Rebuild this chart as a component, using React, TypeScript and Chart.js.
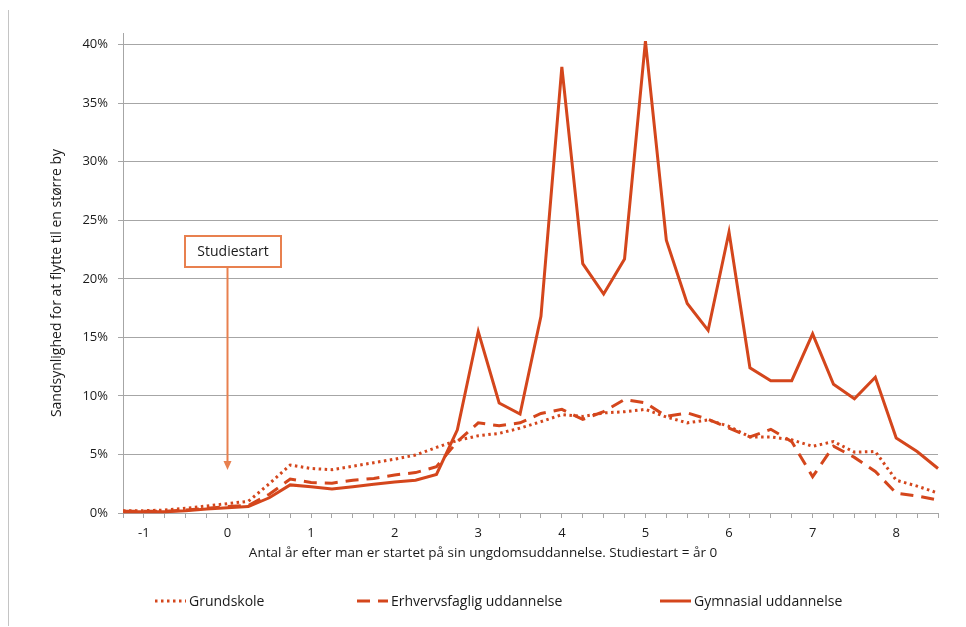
import React, { useEffect, useRef } from "react";
import { Chart, registerables } from "chart.js";

Chart.register(...registerables);

const quarters = [
  -1.25, -1, -0.75, -0.5, -0.25, 0, 0.25, 0.5, 0.75, 1, 1.25, 1.5, 1.75, 2, 2.25, 2.5, 2.75, 3, 3.25, 3.5,
  3.75, 4, 4.25, 4.5, 4.75, 5, 5.25, 5.5, 5.75, 6, 6.25, 6.5, 6.75, 7, 7.25, 7.5, 7.75, 8, 8.25, 8.5,
];

const grundskole = [
  0.2, 0.2, 0.25, 0.4, 0.6, 0.8, 1.0, 2.5, 4.1, 3.8, 3.7, 4.0, 4.3, 4.6, 4.95, 5.6, 6.2, 6.6, 6.8, 7.25,
  7.8, 8.4, 8.25, 8.55, 8.65, 8.85, 8.2, 7.7, 7.95, 7.4, 6.5, 6.5, 6.25, 5.7, 6.1, 5.2, 5.25, 2.8, 2.3, 1.7,
];

const erhvervsfaglig = [
  0.15, 0.15, 0.15, 0.25, 0.4, 0.55, 0.65, 1.6, 2.9, 2.6, 2.55, 2.8, 2.95, 3.25, 3.45, 3.95, 6.1, 7.7, 7.45, 7.7,
  8.5, 8.85, 8.0, 8.65, 9.7, 9.4, 8.25, 8.55, 8.0, 7.25, 6.5, 7.15, 6.1, 3.1, 5.7, 4.75, 3.55, 1.7, 1.45, 1.1,
];

const gymnasial = [
  0.1, 0.1, 0.1, 0.2, 0.35, 0.45, 0.55, 1.3, 2.4, 2.25, 2.05, 2.25, 2.45, 2.65, 2.8, 3.3, 7.1, 15.5, 9.4, 8.45,
  16.8, 38.1, 21.3, 18.7, 21.7, 40.3, 23.3, 17.9, 15.6, 24.0, 12.4, 11.3, 11.3, 15.3, 11.0, 9.75, 11.6, 6.4, 5.25, 3.8,
];

const seriesNames = ["Grundskole", "Erhvervsfaglig uddannelse", "Gymnasial uddannelse"];
const xTitle = "Antal år efter man er startet på sin ungdomsuddannelse. Studiestart = år 0";
const yTitle = "Sandsynlighed for at flytte til en større by";
const annotationText = "Studiestart";
const annotationYear = 0;

const LINE = "#d4461c";
const ANNOT = "#e8804f";
const GRID = "#a6a6a6";
const FONT = "'Open Sans', sans-serif";
const TEXT = "#1a1a1a";

const overlayPlugin = {
  id: "overlay",
  afterDraw(chart: any) {
    const ctx = chart.ctx as CanvasRenderingContext2D;
    const xs = chart.scales.x;
    ctx.save();

    // left frame line
    ctx.strokeStyle = "#c4c4c4";
    ctx.lineWidth = 1;
    ctx.beginPath();
    ctx.moveTo(8.5, 10);
    ctx.lineTo(8.5, 626);
    ctx.stroke();

    // y title
    ctx.fillStyle = TEXT;
    ctx.font = `14px ${FONT}`;
    ctx.textAlign = "center";
    ctx.textBaseline = "middle";
    ctx.save();
    ctx.translate(57, 283);
    ctx.rotate(-Math.PI / 2);
    ctx.fillText(yTitle, 0, 0);
    ctx.restore();

    // x title
    ctx.font = `13.5px ${FONT}`;
    ctx.fillText(xTitle, 483, 553);

    // legend
    const ly = 601;
    const items = [
      { x: 155, dash: [2.5, 3.5], text: seriesNames[0] },
      { x: 357, dash: [13, 8], text: seriesNames[1] },
      { x: 660, dash: [], text: seriesNames[2] },
    ];
    items.forEach((it) => {
      ctx.strokeStyle = LINE;
      ctx.lineWidth = 3;
      ctx.setLineDash(it.dash);
      ctx.beginPath();
      ctx.moveTo(it.x, ly);
      ctx.lineTo(it.x + 31, ly);
      ctx.stroke();
      ctx.setLineDash([]);
      ctx.fillStyle = TEXT;
      ctx.font = `14px ${FONT}`;
      ctx.textAlign = "left";
      ctx.textBaseline = "middle";
      ctx.fillText(it.text, it.x + 34, ly + 1);
    });

    // annotation
    const idx = quarters.indexOf(annotationYear);
    const ax = Math.round(xs.getPixelForValue(idx)) + 0.5;
    const bx = 185, by = 236, bw = 96, bh = 31;
    ctx.strokeStyle = ANNOT;
    ctx.lineWidth = 2;
    ctx.fillStyle = "#ffffff";
    ctx.fillRect(bx, by, bw, bh);
    ctx.strokeRect(bx, by, bw, bh);
    ctx.fillStyle = TEXT;
    ctx.font = `14px ${FONT}`;
    ctx.textAlign = "center";
    ctx.textBaseline = "middle";
    ctx.fillText(annotationText, bx + bw / 2, by + bh / 2 + 1);
    ctx.lineWidth = 2;
    ctx.beginPath();
    ctx.moveTo(ax, by + bh);
    ctx.lineTo(ax, 462);
    ctx.stroke();
    ctx.fillStyle = ANNOT;
    ctx.beginPath();
    ctx.moveTo(ax - 4, 461);
    ctx.lineTo(ax + 4, 461);
    ctx.lineTo(ax, 470);
    ctx.closePath();
    ctx.fill();

    ctx.restore();
  },
};

export default function App() {
  const ref = useRef<HTMLCanvasElement | null>(null);

  useEffect(() => {
    if (!ref.current) return;
    const chart = new Chart(ref.current, {
      type: "line",
      data: {
        labels: quarters.map(String),
        datasets: [
          {
            label: seriesNames[0],
            data: grundskole,
            borderColor: LINE,
            borderWidth: 3,
            borderDash: [2.5, 3.5],
            pointRadius: 0,
            tension: 0,
            clip: false as any,
          },
          {
            label: seriesNames[1],
            data: erhvervsfaglig,
            borderColor: LINE,
            borderWidth: 3,
            borderDash: [13, 8],
            pointRadius: 0,
            tension: 0,
            clip: false as any,
          },
          {
            label: seriesNames[2],
            data: gymnasial,
            borderColor: LINE,
            borderWidth: 3,
            pointRadius: 0,
            tension: 0,
            clip: false as any,
          },
        ],
      },
      options: {
        animation: false,
        responsive: false,
        maintainAspectRatio: false,
        events: [],
        layout: { padding: { left: 0, right: 28, top: 33, bottom: 84 } },
        plugins: { legend: { display: false }, tooltip: { enabled: false } },
        scales: {
          x: {
            type: "category",
            offset: false,
            grid: {
              display: true,
              drawOnChartArea: false,
              drawTicks: true,
              tickLength: 5,
              color: GRID,
              offset: false,
            },
            border: { color: GRID },
            ticks: {
              autoSkip: false,
              maxRotation: 0,
              minRotation: 0,
              padding: 7,
              color: TEXT,
              font: { family: FONT, size: 13 },
              callback: (_v: any, i: number) =>
                Number.isInteger(quarters[i]) ? String(quarters[i]) : "",
            },
            afterFit: (s: any) => {
              s.height = 30;
            },
          },
          y: {
            min: 0,
            max: 41,
            grid: { color: GRID, tickLength: 5, drawTicks: true },
            border: { color: GRID },
            ticks: {
              stepSize: 5,
              includeBounds: false,
              padding: 10,
              color: TEXT,
              font: { family: FONT, size: 13 },
              callback: (v: any) => `${v}%`,
            },
            afterFit: (s: any) => {
              s.width = 123;
            },
          },
        },
      },
      plugins: [overlayPlugin],
    });
    return () => chart.destroy();
  }, []);

  return (
    <div style={{ position: "fixed", left: 0, top: 0, width: 966, height: 627, background: "#fff" }}>
      <canvas ref={ref} width={966} height={627} style={{ width: 966, height: 627, display: "block" }} />
    </div>
  );
}
